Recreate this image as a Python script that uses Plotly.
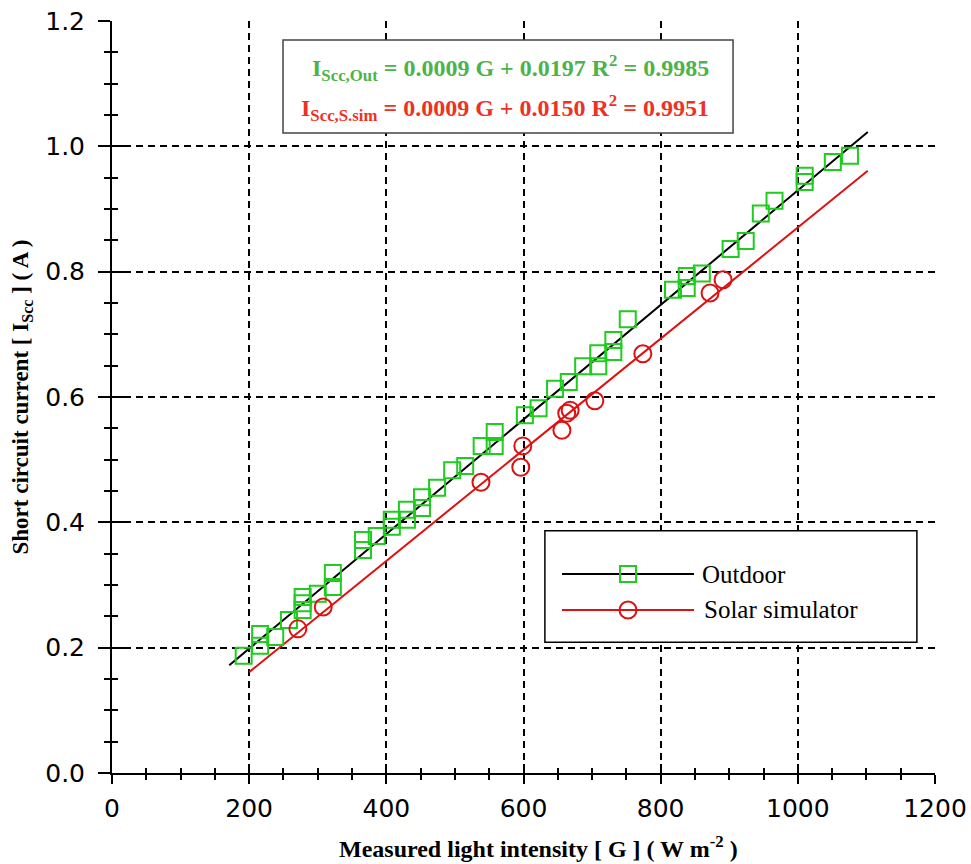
import plotly.graph_objects as go

# Outdoor measurements: irradiance G (W m-2) and short circuit current (A)
out_g = [192, 216, 216, 238, 258, 278, 278, 278, 300, 322, 322, 366, 366, 386,
         408, 408, 430, 430, 452, 452, 474, 496, 515, 539, 558, 558, 602, 622,
         646, 666, 687, 709, 709, 731, 731, 752, 818, 838, 838, 860, 902, 924,
         946, 966, 1010, 1010, 1051, 1076]
out_i = [0.187, 0.222, 0.203, 0.217, 0.244, 0.281, 0.271, 0.260, 0.286, 0.319,
         0.297, 0.372, 0.356, 0.378, 0.404, 0.393, 0.420, 0.404, 0.440, 0.423,
         0.455, 0.483, 0.490, 0.522, 0.522, 0.544, 0.571, 0.582, 0.613, 0.624,
         0.649, 0.649, 0.670, 0.691, 0.672, 0.724, 0.771, 0.774, 0.793, 0.797,
         0.836, 0.849, 0.893, 0.913, 0.943, 0.953, 0.975, 0.985]

# Solar simulator measurements
sim_g = [271, 308, 538, 596, 599, 656, 663, 668, 704, 774, 872, 891]
sim_i = [0.230, 0.265, 0.464, 0.488, 0.522, 0.547, 0.574, 0.579, 0.594,
         0.669, 0.766, 0.787]

# Linear fit lines (end points)
fit_out_g = [171, 1102]
fit_out_i = [0.172, 1.023]
fit_sim_g = [200, 1102]
fit_sim_i = [0.161, 0.961]

# Axis ticks
x_ticks = [0, 200, 400, 600, 800, 1000, 1200]
y_ticks = [0.0, 0.2, 0.4, 0.6, 0.8, 1.0, 1.2]
y_tick_text = ["0.0", "0.2", "0.4", "0.6", "0.8", "1.0", "1.2"]

GREEN = "#1fcc1f"
RED = "#dd1111"
SERIF = "Liberation Serif"
SANS = "DejaVu Sans"

fig = go.Figure()

fig.add_trace(go.Scatter(x=fit_out_g, y=fit_out_i, mode="lines",
                         line=dict(color="black", width=2), showlegend=False))
fig.add_trace(go.Scatter(x=fit_sim_g, y=fit_sim_i, mode="lines",
                         line=dict(color=RED, width=2), showlegend=False))
fig.add_trace(go.Scatter(x=out_g, y=out_i, mode="markers", name="Outdoor",
                         marker=dict(symbol="square-open", size=16, color=GREEN,
                                     line=dict(width=2, color=GREEN)),
                         showlegend=False))
fig.add_trace(go.Scatter(x=sim_g, y=sim_i, mode="markers", name="Solar simulator",
                         marker=dict(symbol="circle-open", size=17, color=RED,
                                     line=dict(width=2, color=RED)),
                         showlegend=False))

grid = dict(showgrid=True, gridcolor="black", gridwidth=2, griddash="7px,5px",
            zeroline=False, automargin=False)

fig.update_layout(
    width=971, height=864,
    margin=dict(l=112, r=36, t=21, b=91),
    paper_bgcolor="white", plot_bgcolor="white",
    showlegend=False,
    xaxis=dict(range=[0, 1200], tickvals=x_ticks, ticks="outside", ticklen=9,
               tickwidth=2, tickcolor="black", showline=True, linecolor="black",
               linewidth=2, minor=dict(dtick=50, ticks="outside", ticklen=5,
                                       tickwidth=2, tickcolor="black",
                                       showgrid=False),
               tickfont=dict(family=SANS, size=25, color="black"),
               ticklabelstandoff=3,
               **grid),
    yaxis=dict(range=[0, 1.2], tickvals=y_ticks, ticktext=y_tick_text,
               ticks="outside", ticklen=12, tickwidth=2, tickcolor="black",
               showline=True, linecolor="black", linewidth=2,
               minor=dict(dtick=0.05, ticks="outside", ticklen=6, tickwidth=2,
                          tickcolor="black", showgrid=False),
               tickfont=dict(family=SANS, size=25, color="black"),
               ticklabelstandoff=8,
               title=dict(text="<b>Short circuit current [ I<sub>Scc</sub> ] ( A )</b>",
                          font=dict(family=SERIF, size=23, color="black"),
                          standoff=10),
               **grid),
    # twin axes draw the inner half of each tick so the ticks cross the axis
    xaxis2=dict(range=[0, 1200], overlaying="x", anchor="y", tickvals=x_ticks,
                ticks="inside", ticklen=9, tickwidth=2, tickcolor="black",
                showticklabels=False, showgrid=False, zeroline=False,
                showline=False, automargin=False,
                minor=dict(dtick=50, ticks="inside", ticklen=5, tickwidth=2,
                           tickcolor="black", showgrid=False)),
    yaxis2=dict(range=[0, 1.2], overlaying="y", anchor="x", tickvals=y_ticks,
                ticks="inside", ticklen=12, tickwidth=2, tickcolor="black",
                showticklabels=False, showgrid=False, zeroline=False,
                showline=False, automargin=False,
                minor=dict(dtick=0.05, ticks="inside", ticklen=6, tickwidth=2,
                           tickcolor="black", showgrid=False)),
)

# empty trace so the twin tick axes are drawn
fig.add_trace(go.Scatter(x=[], y=[], xaxis="x2", yaxis="y2", showlegend=False,
                         hoverinfo="skip"))

shapes = []
# equation box
shapes.append(dict(type="rect", xref="paper", yref="paper",
                   x0=0.2078, x1=0.7546, y0=0.851, y1=0.9747,
                   line=dict(color="#444444", width=1.5), fillcolor="white",
                   layer="above"))
# legend box
shapes.append(dict(type="rect", xref="paper", yref="paper",
                   x0=0.526, x1=0.978, y0=0.174, y1=0.322,
                   line=dict(color="black", width=1.5), fillcolor="white",
                   layer="above"))
# legend sample lines
for yy, col in [(0.2646, "black"), (0.2168, RED)]:
    shapes.append(dict(type="line", xref="paper", yref="paper",
                       x0=0.5468, x1=0.7072, y0=yy, y1=yy,
                       line=dict(color=col, width=2), layer="above"))
# legend sample markers
shapes.append(dict(type="rect", xref="paper", yref="paper",
                   xsizemode="pixel", ysizemode="pixel",
                   xanchor=0.627, yanchor=0.2646, x0=-8, x1=8, y0=-8, y1=8,
                   line=dict(color=GREEN, width=2), fillcolor="rgba(0,0,0,0)",
                   layer="above"))
shapes.append(dict(type="circle", xref="paper", yref="paper",
                   xsizemode="pixel", ysizemode="pixel",
                   xanchor=0.627, yanchor=0.2168, x0=-8.5, x1=8.5, y0=-8.5, y1=8.5,
                   line=dict(color=RED, width=2), fillcolor="rgba(0,0,0,0)",
                   layer="above"))
fig.update_layout(shapes=shapes)

annotations = [
    dict(text="<b>I<sub>Scc,Out</sub> = 0.0009 G + 0.0197 R<sup>2</sup> = 0.9985</b>",
         x=0.4836, y=0.9375, xref="paper", yref="paper", showarrow=False,
         xanchor="center", yanchor="middle",
         font=dict(family=SERIF, size=24, color="#4cb34a")),
    dict(text="<b>I<sub>Scc,S.sim</sub> = 0.0009 G + 0.0150 R<sup>2</sup> = 0.9951</b>",
         x=0.4775, y=0.8843, xref="paper", yref="paper", showarrow=False,
         xanchor="center", yanchor="middle",
         font=dict(family=SERIF, size=24, color="#ee3124")),
    dict(text="Outdoor", x=0.7145, y=0.2646, xref="paper", yref="paper",
         showarrow=False, xanchor="left", yanchor="middle",
         font=dict(family=SERIF, size=25, color="black")),
    dict(text="Solar simulator", x=0.717, y=0.2168, xref="paper", yref="paper",
         showarrow=False, xanchor="left", yanchor="middle",
         font=dict(family=SERIF, size=25, color="black")),
    # x axis title
    dict(text="<b>Measured light intensity [ G ] ( W m<sup>-2</sup> )</b>",
         x=0.518, y=-0.0985, xref="paper", yref="paper", showarrow=False,
         xanchor="center", yanchor="middle",
         font=dict(family=SERIF, size=24, color="black")),
]
fig.update_layout(annotations=annotations)

fig.write_html("out.html")
